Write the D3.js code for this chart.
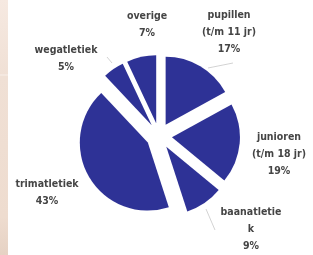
<!DOCTYPE html>
<html>
<head>
<meta charset="utf-8">
<style>
  html, body { margin: 0; padding: 0; background: #fff; }
  svg { display: block; }
  .lbl { font-family: 'DejaVu Sans Condensed', 'DejaVu Sans', sans-serif; font-size: 10.5px; font-weight: bold; fill: #454545; }
</style>
</head>
<body>
<svg width="313" height="255"></svg>
<script src="https://d3js.org/d3.v7.min.js"></script>
<script>
  // data
  var categories = ["pupillen", "junioren", "baanatletiek", "trimatletiek", "wegatletiek", "overige"];
  var values = [17, 19, 9, 43, 5, 7];
  var labels = [
    ["pupillen", "(t/m 11 jr)", "17%"],
    ["junioren", "(t/m 18 jr)", "19%"],
    ["baanatletie", "k", "9%"],
    ["trimatletiek", "43%"],
    ["wegatletiek", "5%"],
    ["overige", "7%"]
  ];

  var svg = d3.select("svg");

  // beige strip on the left edge
  var defs = svg.append("defs");
  var grad = defs.append("linearGradient").attr("id", "strip")
    .attr("x1", 0).attr("y1", 0).attr("x2", 0).attr("y2", 1);
  grad.append("stop").attr("offset", "0").attr("stop-color", "#f6e9e1");
  grad.append("stop").attr("offset", "0.3").attr("stop-color", "#f0e0d5");
  grad.append("stop").attr("offset", "0.85").attr("stop-color", "#eedccf");
  grad.append("stop").attr("offset", "1").attr("stop-color", "#e6d2c4");
  svg.append("rect").attr("x", 0).attr("y", 0).attr("width", 8).attr("height", 255)
    .attr("fill", "url(#strip)");
  svg.append("line").attr("x1", 0).attr("x2", 8).attr("y1", 75).attr("y2", 75)
    .attr("stroke", "#f8efea").attr("stroke-width", 1);

  var soft = defs.append("filter").attr("id", "soft");
  soft.append("feGaussianBlur").attr("stdDeviation", 0.45);

  var cx = 159, cy = 136, r = 68, explode = 13;

  var pie = d3.pie().sort(null).value(function(d) { return d; });
  var arc = d3.arc().innerRadius(0).outerRadius(r);

  var g = svg.append("g")
    .attr("transform", "translate(" + cx + "," + cy + ")")
    .attr("filter", "url(#soft)");

  g.selectAll("path")
    .data(pie(values))
    .enter().append("path")
    .attr("d", arc)
    .attr("fill", "#2f3296")
    .attr("transform", function(d) {
      var a = (d.startAngle + d.endAngle) / 2;
      return "translate(" + (Math.sin(a) * explode) + "," + (-Math.cos(a) * explode) + ")";
    });

  // label anchor positions (centre of first line)
  var labelPos = [[229, 18], [279, 140], [251, 215], [47, 187], [66, 53], [147, 19]];
  var lineH = 17;

  var lg = svg.append("g").attr("filter", "url(#soft)");
  categories.forEach(function(c, i) {
    var t = lg.append("text").attr("class", "lbl")
      .attr("text-anchor", "middle")
      .attr("x", labelPos[i][0]).attr("y", labelPos[i][1]);
    labels[i].forEach(function(s, j) {
      t.append("tspan").attr("x", labelPos[i][0]).attr("dy", j === 0 ? 0 : lineH).text(s);
    });
  });

  // thin leader lines
  var leaders = [[[233, 63], [208, 68]], [[107, 57], [112, 63]], [[206, 209], [215, 230]]];
  leaders.forEach(function(l) {
    svg.append("line")
      .attr("x1", l[0][0]).attr("y1", l[0][1]).attr("x2", l[1][0]).attr("y2", l[1][1])
      .attr("stroke", "#c8c8c8").attr("stroke-width", 0.8);
  });
</script>
</body>
</html>
